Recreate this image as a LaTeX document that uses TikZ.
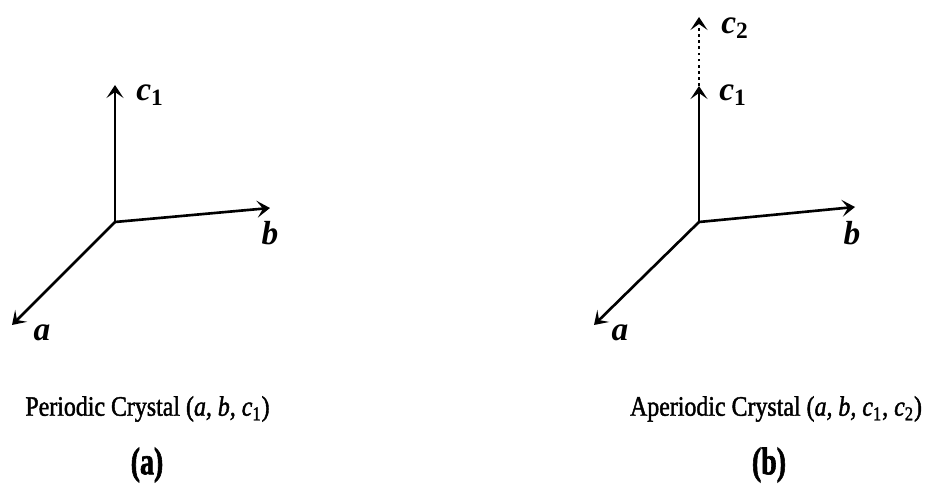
\documentclass[tikz,border=0pt]{standalone}
\usepackage{fontspec}
\setmainfont{Liberation Serif}
\newfontfamily\captfont[FakeStretch=0.85,FakeBold=1.5]{Liberation Serif}
\newfontfamily\tagfont[FakeStretch=0.72,FakeBold=1.5]{Liberation Serif}
\usetikzlibrary{arrows.meta,positioning}
\tikzset{
  axis/.style={-{Stealth[length=2.6mm, width=3.4mm, inset=1.2mm]}, line width=1.5pt},
  extax/.style={-{Stealth[length=2.6mm, width=3.4mm, inset=1.2mm]}, line width=1.5pt, dotted},
  alab/.style={font=\fontsize{19}{21}\selectfont\bfseries\itshape, inner sep=1pt},
  capt/.style={font=\fontsize{16}{19}\captfont},
  tag/.style={font=\fontsize{22}{24}\tagfont\bfseries},
}
\newcommand{\sub}[1]{\textsubscript{\normalfont\bfseries #1}}
\begin{document}
\begin{tikzpicture}
\useasboundingbox (0,0) rectangle (18.7,9.9);
%---- periodic crystal
\coordinate (oL) at (2.30,5.46);
\coordinate (cL) at (2.30,8.20);
\coordinate (bL) at (5.40,5.74);
\coordinate (aL) at (0.24,3.40);
\draw[axis] (oL) -- (cL);
\draw[axis] (oL) -- (bL);
\draw[axis] (oL) -- (aL);
\node[alab] (labcL) at (3.00,8.00) {c\sub{1}};
\node[alab] (labbL) at (5.40,5.24) {b};
\node[alab] (labaL) at (0.84,3.24) {a};
\node[capt] (captL) at (2.95,1.72) {Periodic Crystal (\textit{a, b, c}\textsubscript{1})};
\node[tag] (tagL) at (2.94,0.60) {(a)};
%---- aperiodic crystal
\coordinate (oR) at (13.98,5.46);
\coordinate (cR) at (13.98,8.18);
\coordinate (dR) at (13.98,9.56);
\coordinate (bR) at (17.10,5.76);
\coordinate (aR) at (11.88,3.40);
\draw[axis] (oR) -- (cR);
\draw[extax] (cR) -- (dR);
\draw[axis] (oR) -- (bR);
\draw[axis] (oR) -- (aR);
\node[alab] (labdR) at (14.70,9.34) {c\sub{2}};
\node[alab] (labcR) at (14.66,8.00) {c\sub{1}};
\node[alab] (labbR) at (17.04,5.24) {b};
\node[alab] (labaR) at (12.40,3.24) {a};
\node[capt] (captR) at (15.52,1.72) {Aperiodic Crystal (\textit{a, b, c}\textsubscript{1}, \textit{c}\textsubscript{2})};
\node[tag] (tagR) at (15.38,0.60) {(b)};
\end{tikzpicture}
\end{document}
